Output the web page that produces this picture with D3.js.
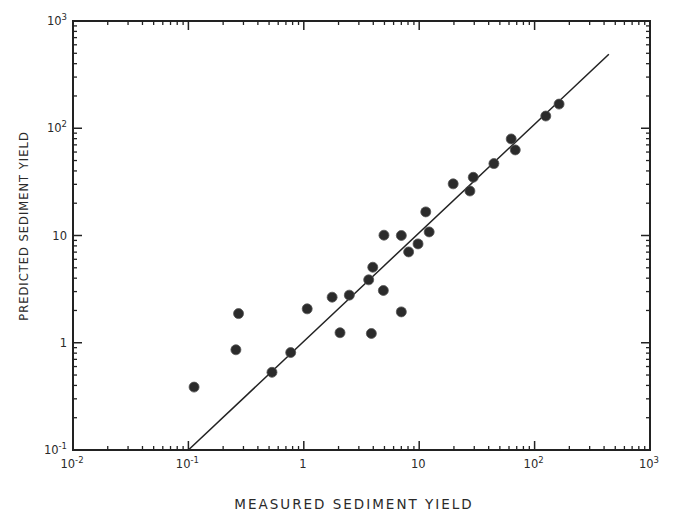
<!DOCTYPE html>
<html>
<head>
<meta charset="utf-8">
<script src="https://cdn.jsdelivr.net/npm/d3@7"></script>
<style>
  body { margin: 0; background: #fff; }
  svg text { font-family: "DejaVu Sans", sans-serif; fill: #2a2a2a; }
</style>
</head>
<body>
<svg id="chart" width="678" height="515"></svg>
<script>
// measured vs predicted sediment yield
const measured = [0.112, 0.258, 0.272, 0.53, 0.77, 1.07, 1.76, 2.06, 2.48, 3.65,
  3.96, 3.85, 4.89, 4.95, 7.0, 7.0, 8.1, 9.77, 12.2, 11.4,
  19.7, 27.5, 29.4, 44.4, 62.7, 68, 125, 163];
const predicted = [0.386, 0.86, 1.87, 0.53, 0.81, 2.07, 2.66, 1.24, 2.78, 3.86,
  5.06, 1.22, 3.07, 10.07, 10.0, 1.94, 7.03, 8.35, 10.8, 16.6,
  30.3, 26, 34.9, 46.8, 79.5, 62.8, 130, 168];

// 1:1 line ends
const lineX = [0.1, 440];
const lineY = [0.1, 490];

const xDecades = [0.01, 0.1, 1, 10, 100, 1000];
const xLabels = ["10^-2", "10^-1", "1", "10", "10^2", "10^3"];
const yDecades = [0.1, 1, 10, 100, 1000];
const yLabels = ["10^-1", "1", "10", "10^2", "10^3"];

const svg = d3.select("#chart");
const plotL = 73, plotR = 650, plotT = 21, plotB = 450;

const x = d3.scaleLog().domain([0.01, 1000]).range([plotL, plotR]);
const y = d3.scaleLog().domain([0.1, 1000]).range([plotB, plotT]);

// minor ticks 2..9 in every decade
function minors(decades) {
  const out = [];
  decades.slice(0, -1).forEach(d => {
    for (let k = 2; k <= 9; k++) out.push(d * k);
  });
  return out;
}

const axisColor = "#222";

// frame
svg.append("rect")
  .attr("x", plotL).attr("y", plotT)
  .attr("width", plotR - plotL).attr("height", plotB - plotT)
  .attr("fill", "none").attr("stroke", axisColor).attr("stroke-width", 2);

const g = svg.append("g").attr("stroke", axisColor);

// x ticks, bottom and top, pointing inside
minors(xDecades).forEach(v => {
  g.append("line").attr("x1", x(v)).attr("x2", x(v)).attr("y1", plotB + 1).attr("y2", plotB - 4).attr("stroke-width", 1.3);
  g.append("line").attr("x1", x(v)).attr("x2", x(v)).attr("y1", plotT - 1).attr("y2", plotT + 4).attr("stroke-width", 1.3);
});
xDecades.slice(1, -1).forEach(v => {
  g.append("line").attr("x1", x(v)).attr("x2", x(v)).attr("y1", plotB).attr("y2", plotB - 9).attr("stroke-width", 1.5);
  g.append("line").attr("x1", x(v)).attr("x2", x(v)).attr("y1", plotT).attr("y2", plotT + 9).attr("stroke-width", 1.5);
});

// y ticks, left and right
minors(yDecades).forEach(v => {
  g.append("line").attr("y1", y(v)).attr("y2", y(v)).attr("x1", plotL - 1).attr("x2", plotL + 4).attr("stroke-width", 1.3);
  g.append("line").attr("y1", y(v)).attr("y2", y(v)).attr("x1", plotR + 1).attr("x2", plotR - 4).attr("stroke-width", 1.3);
});
yDecades.slice(1, -1).forEach(v => {
  g.append("line").attr("y1", y(v)).attr("y2", y(v)).attr("x1", plotL).attr("x2", plotL + 9).attr("stroke-width", 1.5);
  g.append("line").attr("y1", y(v)).attr("y2", y(v)).attr("x1", plotR).attr("x2", plotR - 9).attr("stroke-width", 1.5);
});

// tick labels with superscript exponents
function label(sel, txt) {
  const parts = txt.split("^");
  sel.append("tspan").text(parts[0]);
  if (parts[1]) sel.append("tspan").attr("dy", -5).attr("font-size", 8.5).text(parts[1]);
}

xDecades.forEach((v, i) => {
  const t = svg.append("text")
    .attr("x", x(v) - 1).attr("y", plotB + 18)
    .attr("text-anchor", "middle").attr("font-size", 11.5);
  label(t, xLabels[i]);
});

yDecades.forEach((v, i) => {
  const t = svg.append("text")
    .attr("x", plotL - 6).attr("y", y(v) + 4)
    .attr("text-anchor", "end").attr("font-size", 11.5);
  label(t, yLabels[i]);
});

// 1:1 line
svg.append("line")
  .attr("x1", x(lineX[0])).attr("y1", y(lineY[0]))
  .attr("x2", x(lineX[1])).attr("y2", y(lineY[1]))
  .attr("stroke", "#222").attr("stroke-width", 1.5);

// points
svg.selectAll(".pt")
  .data(measured.map((m, i) => [m, predicted[i]]))
  .enter()
  .append("circle")
  .attr("class", "pt")
  .attr("cx", d => x(d[0]))
  .attr("cy", d => y(d[1]))
  .attr("r", 5)
  .attr("fill", "#2b2b2b")
  .attr("stroke", "#555")
  .attr("stroke-width", 0.8);

// axis titles
svg.append("text")
  .attr("x", 354).attr("y", 509)
  .attr("text-anchor", "middle").attr("font-size", 13.5)
  .attr("letter-spacing", 2)
  .text("MEASURED SEDIMENT YIELD");

svg.append("text")
  .attr("transform", "translate(28,226) rotate(-90)")
  .attr("text-anchor", "middle").attr("font-size", 11.5)
  .attr("letter-spacing", 1)
  .text("PREDICTED SEDIMENT YIELD");
</script>
</body>
</html>
